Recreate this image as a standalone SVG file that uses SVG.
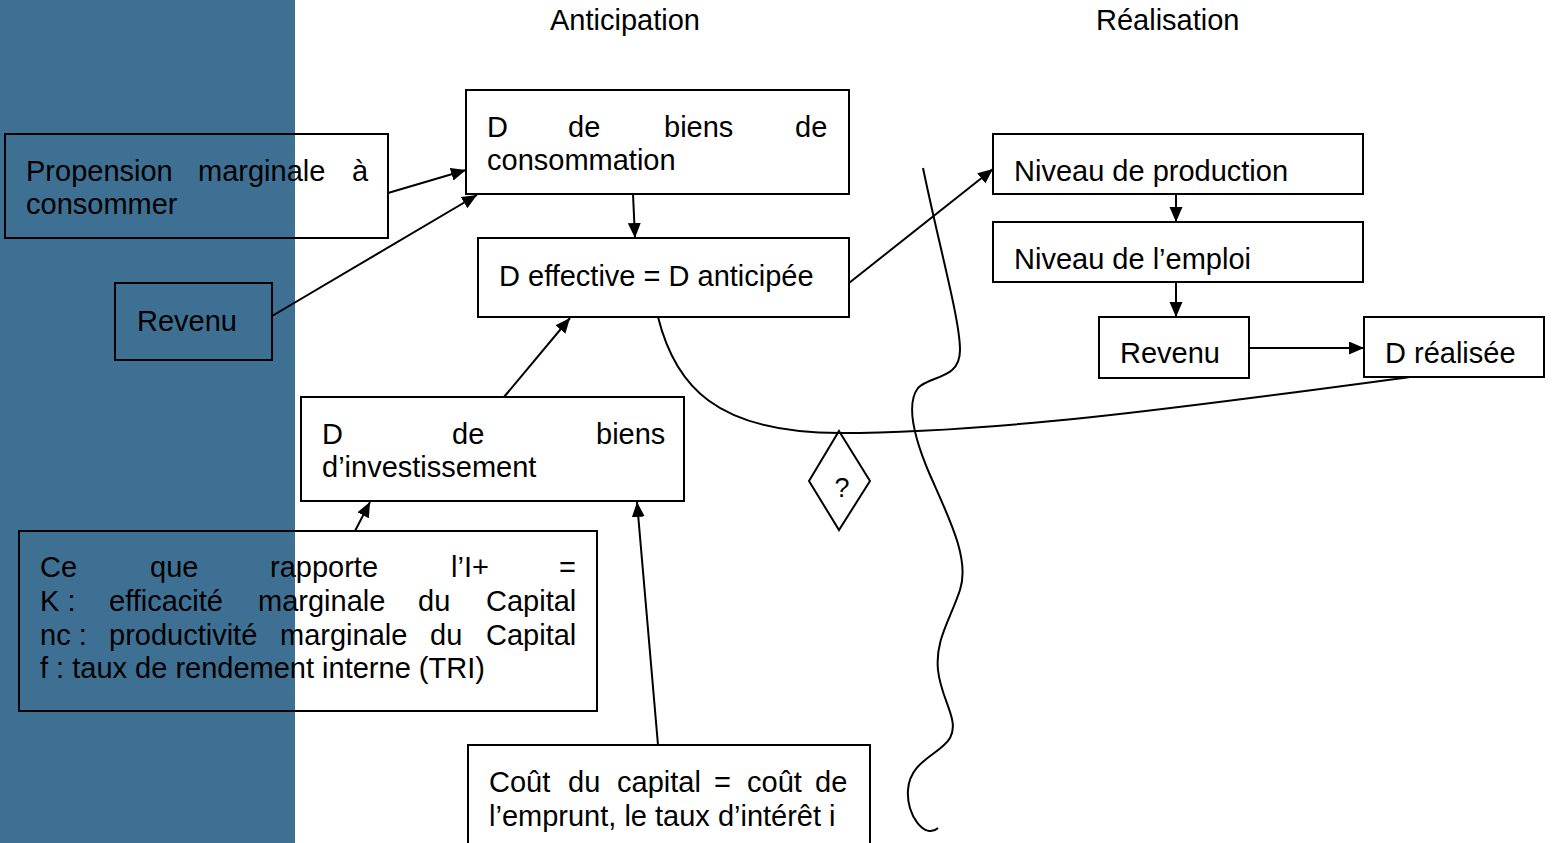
<svg xmlns="http://www.w3.org/2000/svg" width="1552" height="843" viewBox="0 0 1552 843">
<style>
text{font-family:"Liberation Sans",Arial,sans-serif;font-size:29px;fill:#000}
.box{fill:none;stroke:#000;stroke-width:2}
.ln{fill:none;stroke:#000;stroke-width:2}
.ar{fill:none;stroke:#000;stroke-width:2;marker-end:url(#ah)}
</style>
<defs>
<marker id="ah" markerUnits="userSpaceOnUse" markerWidth="16" markerHeight="14" refX="15" refY="6.5" orient="auto">
<path d="M0,0 L15,6.5 L0,13 z" fill="#000"/>
</marker>
</defs>
<rect width="1552" height="843" fill="#fff"/>
<rect x="0" y="0" width="295" height="843" fill="#3d7093"/>
<text x="550" y="30">Anticipation</text>
<text x="1096" y="30">Réalisation</text>
<g id="connectors">
<line class="ar" x1="388" y1="193" x2="466" y2="170"/>
<line class="ar" x1="272" y1="316" x2="477" y2="195"/>
<line class="ar" x1="633" y1="194" x2="635" y2="238"/>
<line class="ar" x1="504" y1="397" x2="570" y2="318"/>
<line class="ar" x1="355" y1="531" x2="370" y2="502"/>
<line class="ar" x1="658" y1="745" x2="637" y2="502"/>
<line class="ar" x1="849" y1="283" x2="993" y2="169"/>
<line class="ar" x1="1176" y1="194" x2="1176" y2="222"/>
<line class="ar" x1="1176" y1="282" x2="1176" y2="317"/>
<line class="ar" x1="1249" y1="348" x2="1364" y2="348"/>
<path class="ln" d="M658,317 C675,385 715,433 840,433 C1000,433 1200,405 1410,377"/>
<path class="ln" d="M923,168 C940,250 960,320 960,350 C960,380 930,375 918,388 C905,405 915,440 930,475 C950,520 970,560 960,590 C950,620 935,640 938,670 C941,700 960,720 950,738 C940,755 910,760 908,790 C906,815 925,840 938,828"/>
</g>
<g id="propension">
<rect class="box" x="5" y="134" width="383" height="104"/>
<text y="181"><tspan x="26">Propension</tspan><tspan x="198">marginale</tspan><tspan x="352">à</tspan></text>
<text x="26" y="214">consommer</text>
</g>
<g id="revenu-left">
<rect class="box" x="115" y="283" width="157" height="77"/>
<text x="137" y="331">Revenu</text>
</g>
<g id="d-conso">
<rect class="box" x="466" y="90" width="383" height="104"/>
<text y="137"><tspan x="487">D</tspan><tspan x="568">de</tspan><tspan x="664">biens</tspan><tspan x="795">de</tspan></text>
<text x="487" y="170">consommation</text>
</g>
<g id="d-effective">
<rect class="box" x="478" y="238" width="371" height="79"/>
<text x="499" y="286">D effective = D anticipée</text>
</g>
<g id="d-invest">
<rect class="box" x="301" y="397" width="383" height="104"/>
<text y="444"><tspan x="322">D</tspan><tspan x="452">de</tspan><tspan x="596">biens</tspan></text>
<text x="322" y="477">d’investissement</text>
</g>
<g id="rapporte">
<rect class="box" x="19" y="531" width="578" height="180"/>
<text y="577"><tspan x="40">Ce</tspan><tspan x="150">que</tspan><tspan x="270">rapporte</tspan><tspan x="451">l’I+</tspan><tspan x="559">=</tspan></text>
<text y="611"><tspan x="40">K :</tspan><tspan x="109">efficacité</tspan><tspan x="258">marginale</tspan><tspan x="418">du</tspan><tspan x="486">Capital</tspan></text>
<text y="645"><tspan x="40">nc :</tspan><tspan x="109">productivité</tspan><tspan x="280">marginale</tspan><tspan x="430">du</tspan><tspan x="486">Capital</tspan></text>
<text x="40" y="678">f : taux de rendement interne (TRI)</text>
</g>
<g id="cout">
<rect class="box" x="468" y="745" width="402" height="110"/>
<text y="792"><tspan x="489">Coût</tspan><tspan x="568">du</tspan><tspan x="617">capital</tspan><tspan x="714">=</tspan><tspan x="747">coût</tspan><tspan x="815">de</tspan></text>
<text x="489" y="826">l’emprunt, le taux d’intérêt i</text>
</g>
<g id="question">
<polygon points="839,431 870,481 839,530 809,481" fill="none" stroke="#000" stroke-width="2"/>
<text x="842" y="497" text-anchor="middle" style="font-size:27px">?</text>
</g>
<g id="production">
<rect class="box" x="993" y="134" width="370" height="60"/>
<text x="1014" y="181">Niveau de production</text>
</g>
<g id="emploi">
<rect class="box" x="993" y="222" width="370" height="60"/>
<text x="1014" y="269">Niveau de l’emploi</text>
</g>
<g id="revenu-right">
<rect class="box" x="1099" y="317" width="150" height="61"/>
<text x="1120" y="363">Revenu</text>
</g>
<g id="d-realisee">
<rect class="box" x="1364" y="317" width="180" height="60"/>
<text x="1385" y="363">D réalisée</text>
</g>
</svg>
